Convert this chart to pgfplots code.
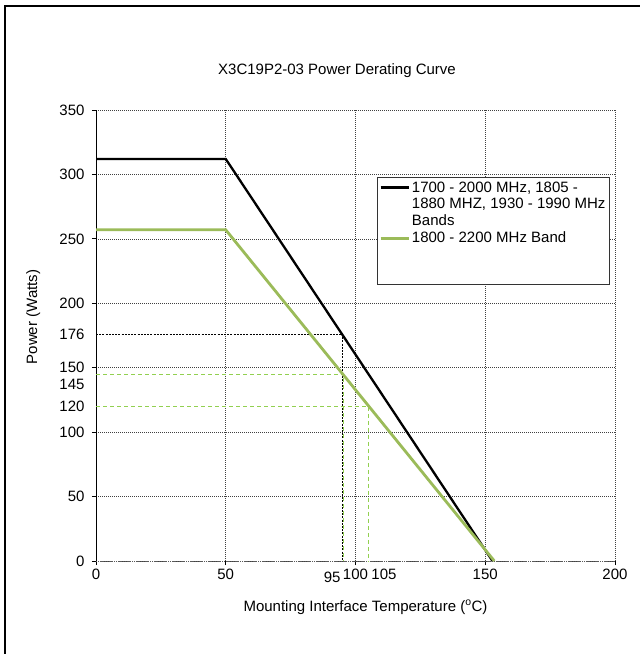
\documentclass[border=0pt]{standalone}
\usepackage{fontspec}
\setmainfont{Liberation Sans}
\usepackage{pgfplots}
\pgfplotsset{compat=1.18}
\definecolor{bandgreen}{RGB}{155,187,89}
\definecolor{refgreen}{RGB}{146,208,80}
\newcommand{\cf}{\fontsize{15pt}{16.7pt}\selectfont}
% legend line level with the first of three text lines
\pgfplotsset{tall legend image/.style={legend image code/.code={%
  \draw[##1] (0pt,16.7pt) -- (28pt,16.7pt); \path (0pt,-16.7pt);}}}

\begin{document}
\begin{tikzpicture}[x=1pt,y=1pt]
\useasboundingbox (0,0) rectangle (640,654);
\draw[line width=2.7pt] (5,0) -- (5,648) -- (640,648);
\begin{axis}[
  at={(96pt,93pt)}, anchor=south west,
  scale only axis, width=519pt, height=451pt,
  xmin=0, xmax=200, ymin=0, ymax=350,
  /pgf/number format/assume math mode=true,
  font=\cf,
  ticklabel style={font=\cf},
  title={X3C19P2-03 Power Derating Curve},
  title style={font=\cf, at={(axis description cs:0.4644,1)}, anchor=base, yshift=30pt},
  xlabel={Mounting Interface Temperature (\textsuperscript{o}C)},
  xlabel style={font=\cf, at={(axis description cs:0.2775,0)}, anchor=base west, yshift=-50pt},
  ylabel={Power (Watts)},
  ylabel style={font=\cf, at={(axis description cs:-0.121,0.541)}, anchor=center},
  axis x line*=bottom, axis y line*=left,
  y axis line style={black, line width=0.9pt, -},
  x axis line style={black!65, line width=1pt, dash pattern=on 1.2pt off 0.6pt, -},
  tick align=outside, major tick length=4pt,
  tick style={black, line width=0.8pt},
  xtick={0,50,100,150,200},
  ytick={0,50,100,150,200,250,300,350},
  extra x ticks={95,105},
  extra x tick labels={\raisebox{-3pt}[\height][\depth]{\makebox[0pt][r]{95\hspace{2pt}}},\makebox[0pt][l]{\hspace{3pt}105}},
  extra y ticks={120,145,176},
  extra y tick labels={120,\raisebox{-10pt}[\height][\depth]{145},176},
  extra tick style={grid=none, major tick style={draw=none}},
  yticklabel style={xshift=-4pt},
  xmajorgrids, ymajorgrids,
  major grid style={black!75, line width=0.7pt, dash pattern=on 1.2pt off 0.8pt},
  legend style={at={(rel axis cs:0.541,0.851)}, anchor=north west,
    draw=black!80, line width=0.8pt, fill=white, font=\cf,
    inner xsep=2pt, inner ysep=2pt, row sep=1pt,
    nodes={align=left}},
  legend cell align=left,
  legend image code/.code={\draw[#1] (0pt,0pt) -- (28pt,0pt);},
]
% reference readings
\addplot[black, line width=0.9pt, dash pattern=on 2pt off 1.2pt, forget plot]
  coordinates {(0,176) (95,176) (95,0)};
\addplot[refgreen, line width=0.9pt, dash pattern=on 4pt off 3pt, forget plot]
  coordinates {(0,145) (95.5,145) (95.5,0)};
\addplot[refgreen, line width=0.9pt, dash pattern=on 4pt off 3pt, forget plot]
  coordinates {(0,120) (105,120) (105,0)};
% derating curves
\addplot[black, line width=2.3pt, tall legend image]
  coordinates {(0,312) (50,312) (152.8,0)};
\addlegendentry{1700 - 2000 MHz, 1805 -\\1880 MHZ, 1930 - 1990 MHz\\Bands}
\addplot[bandgreen, line width=2.8pt] coordinates {(0,257) (50,257) (153.5,0)};
\addlegendentry{1800 - 2200 MHz Band}
\addlegendimage{empty legend}
\addlegendentry{\rule{0pt}{30pt}}
\end{axis}
\end{tikzpicture}
\end{document}
